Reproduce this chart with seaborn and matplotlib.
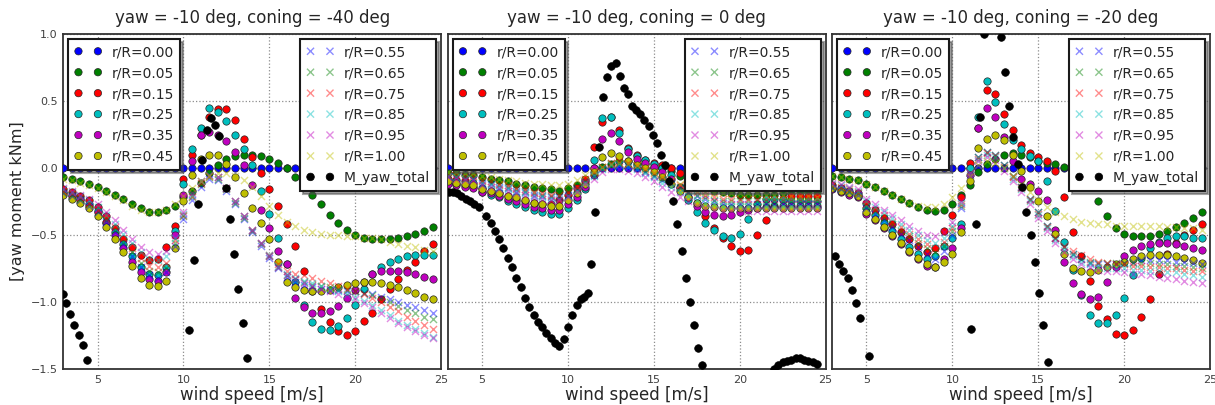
import matplotlib
matplotlib.use('Agg')
import matplotlib.pyplot as plt
import seaborn as sns

# wind speed grid of the coloured series [m/s]
speed = [3.0, 3.5, 4.0, 4.5, 5.0, 5.5, 6.0, 6.5, 7.0, 7.5, 8.0, 8.5, 9.0, 9.5, 10.0, 10.5,
         11.0, 11.5, 12.0, 12.5, 13.0, 13.5, 14.0, 14.5, 15.0, 15.5, 16.0, 16.5, 17.0, 17.5,
         18.0, 18.5, 19.0, 19.5, 20.0, 20.5, 21.0, 21.5, 22.0, 22.5, 23.0, 23.5, 24.0, 24.5]

dot_labels = ['r/R=0.00', 'r/R=0.05', 'r/R=0.15', 'r/R=0.25', 'r/R=0.35', 'r/R=0.45']
cross_labels = ['r/R=0.55', 'r/R=0.65', 'r/R=0.75', 'r/R=0.85', 'r/R=0.95', 'r/R=1.00']
titles = ['yaw = -10 deg, coning = -40 deg', 'yaw = -10 deg, coning = 0 deg',
          'yaw = -10 deg, coning = -20 deg']

# ---- coning = -40 deg
a40_00 = [0.0] * len(speed)
a40_05 = [-0.07, -0.08, -0.10, -0.12, -0.14, -0.17, -0.20, -0.23, -0.27, -0.30, -0.33, -0.33, -0.31, -0.28, -0.22,
          -0.17, -0.11, -0.04, 0.02, 0.07, 0.09, 0.10, 0.10, 0.09, 0.07, 0.04, 0.00, -0.07, -0.13, -0.20,
          -0.27, -0.35, -0.41, -0.46, -0.50, -0.52, -0.53, -0.53, -0.53, -0.52, -0.51, -0.49, -0.47, -0.44]
a40_15 = [-0.16, -0.18, -0.21, -0.24, -0.29, -0.36, -0.45, -0.53, -0.59, -0.65, -0.69, -0.68, -0.59, -0.43, -0.08,
          0.10, 0.25, 0.38, 0.44, 0.44, 0.36, 0.22, 0.08, -0.04, -0.16, -0.28, -0.42, -0.58, -0.77, -0.92,
          -1.05, -1.15, -1.22, -1.25, -1.22, -1.14, -1.08, -0.98, -0.90, -0.83, -0.76, -0.70, -0.62, -0.57]
a40_25 = [-0.18, -0.20, -0.23, -0.27, -0.32, -0.40, -0.48, -0.57, -0.66, -0.74, -0.79, -0.80, -0.74, -0.47, -0.12,
          0.14, 0.30, 0.45, 0.42, 0.35, 0.25, 0.14, 0.02, -0.17, -0.34, -0.52, -0.72, -0.85, -1.02, -1.15,
          -1.20, -1.21, -1.18, -1.12, -1.02, -0.90, -0.79, -0.74, -0.70, -0.68, -0.66, -0.65, -0.65, -0.65]
a40_35 = [-0.19, -0.21, -0.24, -0.28, -0.33, -0.41, -0.50, -0.60, -0.70, -0.78, -0.83, -0.84, -0.78, -0.50, -0.20,
          0.05, 0.25, 0.27, 0.25, 0.20, 0.12, 0.02, -0.13, -0.31, -0.45, -0.62, -0.72, -0.97, -1.04, -1.08,
          -1.08, -1.07, -1.03, -0.97, -0.91, -0.85, -0.79, -0.77, -0.77, -0.77, -0.78, -0.79, -0.81, -0.83]
a40_45 = [-0.20, -0.23, -0.26, -0.30, -0.36, -0.44, -0.53, -0.63, -0.73, -0.82, -0.87, -0.88, -0.84, -0.60, -0.25,
          -0.05, 0.07, 0.10, 0.10, 0.03, -0.07, -0.19, -0.30, -0.41, -0.53, -0.70, -0.85, -0.89, -0.91, -0.92,
          -0.92, -0.91, -0.89, -0.87, -0.86, -0.85, -0.85, -0.86, -0.87, -0.89, -0.91, -0.93, -0.96, -0.98]
a40_55 = [-0.19, -0.21, -0.24, -0.28, -0.33, -0.40, -0.48, -0.57, -0.66, -0.74, -0.80, -0.82, -0.78, -0.58, -0.38,
          -0.24, -0.14, -0.08, -0.09, -0.17, -0.27, -0.38, -0.48, -0.58, -0.67, -0.75, -0.81, -0.85, -0.87, -0.89,
          -0.90, -0.91, -0.91, -0.92, -0.92, -0.93, -0.94, -0.96, -0.98, -1.00, -1.02, -1.04, -1.06, -1.08]
a40_65 = [-0.18, -0.20, -0.23, -0.27, -0.32, -0.39, -0.46, -0.55, -0.63, -0.71, -0.77, -0.78, -0.75, -0.56, -0.36,
          -0.22, -0.12, -0.07, -0.08, -0.16, -0.26, -0.37, -0.47, -0.57, -0.66, -0.74, -0.80, -0.83, -0.85, -0.87,
          -0.88, -0.89, -0.90, -0.91, -0.92, -0.93, -0.95, -0.98, -1.00, -1.03, -1.06, -1.08, -1.11, -1.13]
a40_75 = [-0.17, -0.19, -0.22, -0.26, -0.31, -0.37, -0.44, -0.52, -0.60, -0.67, -0.73, -0.74, -0.71, -0.54, -0.35,
          -0.21, -0.11, -0.06, -0.07, -0.15, -0.25, -0.36, -0.46, -0.56, -0.65, -0.72, -0.77, -0.79, -0.80, -0.82,
          -0.84, -0.86, -0.88, -0.90, -0.92, -0.94, -0.97, -1.00, -1.04, -1.07, -1.11, -1.14, -1.17, -1.20]
a40_85 = [-0.16, -0.18, -0.21, -0.24, -0.29, -0.35, -0.42, -0.49, -0.56, -0.63, -0.68, -0.69, -0.66, -0.52, -0.34,
          -0.20, -0.10, -0.05, -0.07, -0.15, -0.25, -0.36, -0.46, -0.56, -0.65, -0.73, -0.79, -0.82, -0.84, -0.86,
          -0.88, -0.90, -0.92, -0.94, -0.96, -0.99, -1.02, -1.06, -1.10, -1.14, -1.17, -1.20, -1.23, -1.26]
a40_95 = [-0.15, -0.17, -0.20, -0.23, -0.27, -0.33, -0.39, -0.46, -0.53, -0.59, -0.63, -0.64, -0.62, -0.50, -0.33,
          -0.19, -0.10, -0.05, -0.07, -0.15, -0.25, -0.36, -0.46, -0.56, -0.66, -0.74, -0.80, -0.83, -0.86, -0.88,
          -0.90, -0.92, -0.94, -0.96, -0.98, -1.01, -1.04, -1.08, -1.12, -1.16, -1.19, -1.22, -1.25, -1.27]
a40_100 = [-0.08, -0.09, -0.11, -0.13, -0.15, -0.18, -0.21, -0.24, -0.28, -0.31, -0.33, -0.33, -0.31, -0.27, -0.21,
           -0.15, -0.10, -0.06, -0.04, -0.04, -0.06, -0.09, -0.14, -0.21, -0.28, -0.35, -0.40, -0.43, -0.46, -0.48,
           -0.49, -0.50, -0.50, -0.51, -0.51, -0.52, -0.52, -0.53, -0.55, -0.57, -0.58, -0.59, -0.61, -0.62]
tot40_x = [3.0, 3.15, 3.4, 3.65, 3.9, 4.15, 4.4, 10.35, 10.6, 10.85, 11.1, 11.35, 11.6, 11.85, 12.05,
           12.45, 12.7, 12.95, 13.2, 13.45, 13.7]
tot40_y = [-0.94, -1.01, -1.09, -1.17, -1.25, -1.32, -1.43, -1.21, -0.69, -0.27, 0.06, 0.28, 0.37, 0.32, 0.24,
           -0.15, -0.38, -0.64, -0.90, -1.16, -1.42]

# ---- coning = 0 deg
a0_00 = [0.0] * len(speed)
a0_05 = [-0.04, -0.04, -0.05, -0.05, -0.07, -0.08, -0.09, -0.10, -0.12, -0.13, -0.14, -0.15, -0.16, -0.17, -0.15,
         -0.13, -0.10, -0.05, 0.01, 0.03, 0.05, 0.05, 0.04, 0.03, 0.01, 0.00, -0.02, -0.06, -0.10, -0.13,
         -0.15, -0.17, -0.18, -0.19, -0.20, -0.20, -0.20, -0.20, -0.20, -0.19, -0.19, -0.18, -0.18, -0.18]
a0_15 = [-0.08, -0.09, -0.10, -0.11, -0.15, -0.17, -0.19, -0.21, -0.23, -0.25, -0.26, -0.27, -0.27, -0.24, -0.20,
         -0.15, -0.08, 0.16, 0.34, 0.38, 0.28, 0.15, 0.10, 0.06, 0.04, 0.02, 0.00, -0.04, -0.15, -0.26,
         -0.36, -0.45, -0.52, -0.58, -0.62, -0.61, -0.50, -0.39, -0.28, -0.23, -0.21, -0.21, -0.21, -0.21]
a0_25 = [-0.11, -0.12, -0.13, -0.14, -0.18, -0.20, -0.22, -0.25, -0.27, -0.29, -0.31, -0.33, -0.34, -0.34, -0.30,
         -0.24, -0.16, 0.06, 0.37, 0.38, 0.26, 0.14, 0.09, 0.06, 0.03, 0.00, -0.05, -0.14, -0.24, -0.33,
         -0.41, -0.46, -0.51, -0.52, -0.49, -0.38, -0.27, -0.23, -0.23, -0.24, -0.25, -0.25, -0.25, -0.25]
a0_35 = [-0.12, -0.13, -0.14, -0.15, -0.18, -0.19, -0.21, -0.23, -0.25, -0.27, -0.29, -0.30, -0.31, -0.31, -0.27,
         -0.22, -0.14, 0.00, 0.22, 0.26, 0.20, 0.12, 0.07, 0.04, 0.01, -0.03, -0.08, -0.15, -0.22, -0.28,
         -0.33, -0.35, -0.36, -0.35, -0.33, -0.31, -0.30, -0.29, -0.29, -0.28, -0.28, -0.28, -0.28, -0.28]
a0_45 = [-0.10, -0.11, -0.12, -0.13, -0.16, -0.17, -0.19, -0.21, -0.22, -0.24, -0.26, -0.27, -0.28, -0.28, -0.24,
         -0.19, -0.12, -0.03, 0.08, 0.11, 0.09, 0.05, 0.02, 0.00, -0.03, -0.07, -0.12, -0.17, -0.22, -0.26,
         -0.28, -0.29, -0.30, -0.30, -0.30, -0.30, -0.30, -0.30, -0.30, -0.30, -0.30, -0.30, -0.30, -0.30]
a0_55 = [-0.06, -0.07, -0.07, -0.08, -0.11, -0.12, -0.14, -0.15, -0.17, -0.18, -0.20, -0.21, -0.22, -0.22, -0.20,
         -0.16, -0.10, -0.05, 0.00, 0.03, 0.03, 0.02, 0.00, -0.03, -0.06, -0.09, -0.12, -0.15, -0.18, -0.21,
         -0.23, -0.25, -0.26, -0.27, -0.27, -0.27, -0.27, -0.27, -0.27, -0.27, -0.27, -0.27, -0.27, -0.27]
a0_65 = [-0.05, -0.06, -0.06, -0.07, -0.10, -0.11, -0.13, -0.14, -0.16, -0.17, -0.19, -0.20, -0.21, -0.21, -0.19,
         -0.15, -0.09, -0.04, 0.01, 0.04, 0.04, 0.03, 0.01, -0.02, -0.05, -0.08, -0.11, -0.14, -0.17, -0.20,
         -0.22, -0.24, -0.25, -0.25, -0.25, -0.25, -0.25, -0.25, -0.25, -0.25, -0.25, -0.25, -0.25, -0.25]
a0_75 = [-0.05, -0.05, -0.06, -0.06, -0.09, -0.10, -0.12, -0.13, -0.15, -0.16, -0.18, -0.19, -0.20, -0.20, -0.18,
         -0.14, -0.08, -0.03, 0.01, 0.04, 0.05, 0.04, 0.02, -0.01, -0.04, -0.07, -0.10, -0.13, -0.16, -0.18,
         -0.20, -0.22, -0.23, -0.23, -0.23, -0.23, -0.23, -0.23, -0.23, -0.23, -0.23, -0.23, -0.23, -0.23]
a0_85 = [-0.06, -0.07, -0.08, -0.08, -0.12, -0.13, -0.15, -0.16, -0.18, -0.19, -0.21, -0.22, -0.23, -0.23, -0.21,
         -0.17, -0.11, -0.06, -0.01, 0.02, 0.02, 0.01, -0.01, -0.04, -0.07, -0.11, -0.14, -0.18, -0.21, -0.24,
         -0.26, -0.27, -0.28, -0.28, -0.28, -0.28, -0.28, -0.28, -0.28, -0.28, -0.28, -0.28, -0.28, -0.28]
a0_95 = [-0.07, -0.08, -0.09, -0.09, -0.13, -0.14, -0.16, -0.17, -0.19, -0.20, -0.22, -0.23, -0.24, -0.24, -0.22,
         -0.18, -0.12, -0.08, -0.03, -0.01, -0.01, -0.02, -0.04, -0.07, -0.10, -0.14, -0.18, -0.22, -0.25, -0.28,
         -0.30, -0.31, -0.32, -0.32, -0.32, -0.32, -0.32, -0.32, -0.32, -0.32, -0.32, -0.32, -0.32, -0.32]
a0_100 = [-0.03, -0.03, -0.04, -0.04, -0.06, -0.07, -0.08, -0.09, -0.10, -0.11, -0.12, -0.12, -0.13, -0.13, -0.12,
          -0.09, -0.05, -0.02, 0.01, 0.03, 0.04, 0.03, 0.02, 0.00, -0.03, -0.06, -0.09, -0.12, -0.15, -0.17,
          -0.18, -0.19, -0.19, -0.19, -0.19, -0.19, -0.19, -0.20, -0.20, -0.20, -0.21, -0.21, -0.21, -0.22]
tot0_x = [3.05, 3.3, 3.55, 3.8, 4.05, 4.3, 4.55, 4.8,
          5.25, 5.5, 5.75, 6.0, 6.25, 6.5, 6.75, 7.0, 7.25, 7.5, 7.75, 8.0, 8.25, 8.5, 8.75, 9.0, 9.25, 9.5,
          9.75, 10.0, 10.25, 10.5, 10.75, 10.95, 11.15, 11.35, 11.6, 11.82,
          12.05, 12.29, 12.53, 12.77, 13.01, 13.25, 13.49, 13.73, 13.97, 14.21, 14.45, 14.69, 14.93, 15.17,
          15.41, 15.65, 15.89, 16.13, 16.37, 16.61, 16.85, 17.09, 17.33, 17.57, 17.81,
          22.0, 22.25, 22.5, 22.75, 23.0, 23.25, 23.5, 23.75, 24.0, 24.25, 24.5]
tot0_y = [-0.18, -0.18, -0.19, -0.21, -0.23, -0.25, -0.27, -0.29,
          -0.36, -0.41, -0.47, -0.53, -0.60, -0.67, -0.74, -0.82, -0.89, -0.97, -1.04, -1.10, -1.15, -1.19,
          -1.23, -1.27, -1.31, -1.33, -1.28, -1.19, -1.10, -1.02, -0.98, -0.96, -0.93, -0.72, -0.33, 0.16,
          0.53, 0.68, 0.76, 0.78, 0.69, 0.60, 0.55, 0.46, 0.43, 0.40, 0.36, 0.31, 0.25, 0.19,
          0.10, 0.02, -0.10, -0.25, -0.42, -0.62, -0.82, -1.00, -1.17, -1.34, -1.47,
          -1.50, -1.47, -1.45, -1.44, -1.43, -1.42, -1.42, -1.43, -1.44, -1.45, -1.46]

# ---- coning = -20 deg
a20_00 = [0.0] * len(speed)
a20_05 = [-0.06, -0.07, -0.08, -0.09, -0.12, -0.14, -0.17, -0.20, -0.23, -0.26, -0.29, -0.31, -0.32, -0.31, -0.27,
          -0.20, -0.13, -0.03, 0.03, 0.07, 0.10, 0.11, 0.10, 0.08, 0.05, 0.04, 0.03, 0.01, -0.02, -0.06,
          -0.13, -0.25, -0.36, -0.45, -0.49, -0.51, -0.51, -0.51, -0.49, -0.47, -0.44, -0.41, -0.37, -0.33]
a20_15 = [-0.13, -0.15, -0.17, -0.19, -0.26, -0.31, -0.37, -0.42, -0.48, -0.53, -0.58, -0.63, -0.60, -0.47, -0.35,
          -0.22, 0.04, 0.30, 0.58, 0.55, 0.40, 0.28, 0.17, 0.11, 0.08, 0.05, -0.02, -0.22, -0.48, -0.66,
          -0.84, -1.03, -1.13, -1.24, -1.25, -1.21, -1.11, -0.98, -0.79, -0.64, -0.56, -0.50, -0.46, -0.42]
a20_25 = [-0.15, -0.16, -0.18, -0.20, -0.30, -0.35, -0.41, -0.47, -0.53, -0.59, -0.64, -0.68, -0.66, -0.58, -0.52,
          -0.42, 0.00, 0.38, 0.65, 0.49, 0.33, 0.21, 0.14, 0.09, 0.05, -0.10, -0.32, -0.55, -0.76, -0.95,
          -1.10, -1.16, -1.16, -1.10, -0.97, -0.80, -0.67, -0.60, -0.55, -0.52, -0.51, -0.51, -0.52, -0.52]
a20_35 = [-0.16, -0.18, -0.20, -0.22, -0.34, -0.39, -0.45, -0.51, -0.57, -0.63, -0.68, -0.73, -0.74, -0.68, -0.60,
          -0.45, -0.05, 0.30, 0.45, 0.38, 0.23, 0.05, -0.08, -0.12, -0.17, -0.24, -0.46, -0.70, -0.86, -0.94,
          -0.98, -0.96, -0.85, -0.74, -0.66, -0.61, -0.58, -0.57, -0.56, -0.56, -0.57, -0.58, -0.60, -0.61]
a20_45 = [-0.15, -0.17, -0.19, -0.21, -0.33, -0.38, -0.44, -0.50, -0.56, -0.62, -0.67, -0.72, -0.74, -0.70, -0.64,
          -0.48, -0.10, 0.15, 0.22, 0.25, 0.21, 0.10, -0.02, -0.14, -0.25, -0.36, -0.49, -0.64, -0.75, -0.77,
          -0.78, -0.76, -0.74, -0.72, -0.70, -0.68, -0.66, -0.65, -0.65, -0.65, -0.66, -0.67, -0.69, -0.71]
a20_55 = [-0.15, -0.16, -0.18, -0.20, -0.30, -0.34, -0.39, -0.44, -0.49, -0.54, -0.59, -0.64, -0.68, -0.62, -0.50,
          -0.30, -0.05, 0.08, 0.12, 0.10, 0.02, -0.06, -0.14, -0.23, -0.33, -0.43, -0.52, -0.59, -0.64, -0.68,
          -0.71, -0.72, -0.72, -0.72, -0.71, -0.70, -0.69, -0.69, -0.69, -0.69, -0.70, -0.70, -0.71, -0.72]
a20_65 = [-0.14, -0.15, -0.17, -0.19, -0.28, -0.32, -0.37, -0.42, -0.47, -0.51, -0.56, -0.60, -0.63, -0.58, -0.47,
          -0.28, -0.04, 0.08, 0.12, 0.10, 0.02, -0.06, -0.14, -0.23, -0.33, -0.43, -0.52, -0.59, -0.64, -0.68,
          -0.70, -0.71, -0.71, -0.71, -0.71, -0.71, -0.71, -0.71, -0.72, -0.72, -0.73, -0.73, -0.74, -0.75]
a20_75 = [-0.13, -0.14, -0.16, -0.18, -0.27, -0.31, -0.35, -0.40, -0.44, -0.49, -0.53, -0.57, -0.60, -0.55, -0.45,
          -0.27, -0.04, 0.07, 0.11, 0.09, 0.01, -0.07, -0.15, -0.24, -0.34, -0.44, -0.52, -0.58, -0.62, -0.65,
          -0.68, -0.70, -0.71, -0.72, -0.72, -0.73, -0.73, -0.74, -0.74, -0.75, -0.75, -0.76, -0.77, -0.77]
a20_85 = [-0.12, -0.13, -0.15, -0.17, -0.25, -0.29, -0.33, -0.37, -0.42, -0.46, -0.50, -0.54, -0.56, -0.52, -0.43,
          -0.26, -0.04, 0.06, 0.10, 0.08, 0.00, -0.08, -0.16, -0.25, -0.35, -0.45, -0.54, -0.61, -0.66, -0.70,
          -0.72, -0.74, -0.75, -0.75, -0.75, -0.76, -0.76, -0.77, -0.77, -0.78, -0.78, -0.79, -0.80, -0.81]
a20_95 = [-0.11, -0.12, -0.14, -0.16, -0.23, -0.27, -0.31, -0.35, -0.39, -0.43, -0.47, -0.50, -0.51, -0.48, -0.40,
          -0.25, -0.04, 0.05, 0.08, 0.06, -0.02, -0.10, -0.18, -0.27, -0.37, -0.47, -0.56, -0.63, -0.68, -0.72,
          -0.74, -0.76, -0.77, -0.77, -0.78, -0.79, -0.79, -0.80, -0.81, -0.82, -0.83, -0.84, -0.85, -0.86]
a20_100 = [-0.06, -0.07, -0.08, -0.09, -0.12, -0.14, -0.17, -0.20, -0.23, -0.26, -0.28, -0.29, -0.29, -0.27, -0.22,
           -0.15, -0.06, 0.02, 0.05, 0.04, 0.00, -0.06, -0.12, -0.18, -0.24, -0.29, -0.33, -0.36, -0.38, -0.40,
           -0.41, -0.42, -0.42, -0.43, -0.43, -0.43, -0.43, -0.43, -0.43, -0.44, -0.44, -0.45, -0.45, -0.46]
tot20_x = [3.15, 3.4, 3.65, 3.9, 4.15, 4.4, 4.65, 5.15, 11.1, 11.35, 11.6, 11.82,
           12.8, 13.05, 13.3, 13.55, 13.8, 14.05, 14.3, 14.55, 14.8, 15.05, 15.3, 15.55]
tot20_y = [-0.66, -0.72, -0.77, -0.82, -0.91, -1.01, -1.12, -1.40, -1.20, -0.42, 0.38, 1.00,
           0.98, 0.72, 0.46, 0.23, 0.03, -0.14, -0.33, -0.50, -0.70, -0.93, -1.17, -1.45]

colors = ['#0000ff', '#008000', '#ff0000', '#00bfbf', '#bf00bf', '#bfbf00']

panels = [
    ([a40_00, a40_05, a40_15, a40_25, a40_35, a40_45],
     [a40_55, a40_65, a40_75, a40_85, a40_95, a40_100], tot40_x, tot40_y),
    ([a0_00, a0_05, a0_15, a0_25, a0_35, a0_45],
     [a0_55, a0_65, a0_75, a0_85, a0_95, a0_100], tot0_x, tot0_y),
    ([a20_00, a20_05, a20_15, a20_25, a20_35, a20_45],
     [a20_55, a20_65, a20_75, a20_85, a20_95, a20_100], tot20_x, tot20_y),
]

sns.set_style('whitegrid', {'grid.linestyle': ':', 'grid.color': '0.55',
                            'axes.edgecolor': '0.2'})
plt.rcParams['font.family'] = 'DejaVu Sans'

fig, axes = plt.subplots(1, 3, figsize=(12.15, 4.05), dpi=100, sharey=True)
fig.subplots_adjust(left=0.052, right=0.996, bottom=0.089, top=0.916, wspace=0.017)

leg_kw = dict(fontsize=10, scatterpoints=2, scatteryoffsets=[0.5], frameon=True, fancybox=False,
              shadow=True, framealpha=1, edgecolor='0.1', borderaxespad=0.35, handletextpad=0.7,
              borderpad=0.45, labelspacing=0.5, handlelength=2.0)

for ax, (dots, crosses, tx, ty), title in zip(axes, panels, titles):
    for vals, lab, col in zip(dots, dot_labels, colors):
        sns.scatterplot(x=speed, y=vals, ax=ax, color=col, marker='o', s=28,
                        edgecolor='0.15', linewidth=0.5, label=lab, legend=False, zorder=3)
    for vals, lab, col in zip(crosses, cross_labels, colors):
        sns.scatterplot(x=speed, y=vals, ax=ax, color=col, marker='x', s=26,
                        linewidth=1.0, alpha=0.45, label=lab, legend=False, zorder=3)
    sns.scatterplot(x=tx, y=ty, ax=ax, color='k', marker='o', s=30,
                    edgecolor='k', linewidth=0.5, label='M_yaw_total', legend=False, zorder=4)

    ax.set_xlim(3, 25)
    ax.set_ylim(-1.5, 1.0)
    ax.set_xticks([5, 10, 15, 20, 25])
    ax.set_yticks([-1.5, -1.0, -0.5, 0.0, 0.5, 1.0])
    ax.grid(True, linestyle=':', color='0.55', linewidth=0.9)
    ax.set_axisbelow(True)
    ax.tick_params(labelsize=8, colors='0.25', length=0, pad=4)
    for sp in ax.spines.values():
        sp.set_color('0.2')
        sp.set_linewidth(1.3)
    ax.set_title(title, fontsize=12, pad=8)
    ax.set_xlabel('wind speed [m/s]', fontsize=12, labelpad=1)

    handles, labels = ax.get_legend_handles_labels()
    leg1 = ax.legend(handles[:6], labels[:6], loc='upper left', **leg_kw)
    leg1.get_frame().set_linewidth(1.5)
    ax.add_artist(leg1)
    leg2 = ax.legend(handles[6:], labels[6:], loc='upper right', **leg_kw)
    leg2.get_frame().set_linewidth(1.5)

axes[0].set_ylabel('[yaw moment kNm]', fontsize=11.5, labelpad=4)

fig.savefig('out.png', dpi=100)
